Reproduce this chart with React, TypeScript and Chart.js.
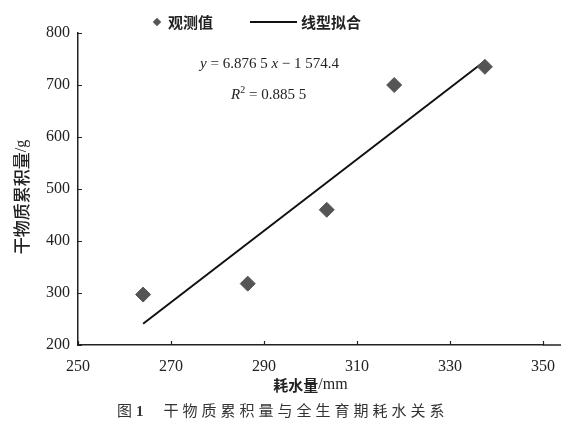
import React, { useEffect, useRef } from "react";
import { Chart, registerables } from "chart.js";

Chart.register(...registerables);

const waterUse = [264, 286.5, 303.5, 318, 337.5];
const dryMatter = [297, 318, 460, 700, 735];
const fitX = [264, 337.5];
const fitY = [241, 746];
const xTicks = [250, 270, 290, 310, 330, 350];
const yTicks = [200, 300, 400, 500, 600, 700, 800];
const xTitleParts = ["耗水量", "/mm"];
const yTitleParts = ["干物质累积量", "/g"];

const SERIF = '"Liberation Serif", "Noto Sans CJK SC", serif';
const CJK = '"Noto Sans CJK SC", "Liberation Serif", sans-serif';

const innerTicks = {
  id: "innerTicks",
  afterDraw(chart: any) {
    const { ctx, chartArea, scales } = chart;
    ctx.save();
    ctx.strokeStyle = "#222";
    ctx.lineWidth = 1.2;
    ctx.beginPath();
    for (const v of xTicks) {
      const px = Math.round(scales.x.getPixelForValue(v)) + 0.5;
      ctx.moveTo(px, chartArea.bottom);
      ctx.lineTo(px, chartArea.bottom - 4);
    }
    for (const v of yTicks) {
      const py = Math.round(scales.y.getPixelForValue(v)) + 0.5;
      ctx.moveTo(chartArea.left, py);
      ctx.lineTo(chartArea.left + 4, py);
    }
    ctx.stroke();
    // short extension of the x axis line past the last tick
    ctx.lineWidth = 1.5;
    ctx.beginPath();
    ctx.moveTo(chartArea.right, chartArea.bottom);
    ctx.lineTo(chartArea.right + 18, chartArea.bottom);
    ctx.stroke();

    // axis titles with mixed fonts
    const drawMixed = (parts: string[], fonts: string[], cx: number, cy: number, rot: number) => {
      ctx.save();
      ctx.translate(cx, cy);
      ctx.rotate(rot);
      ctx.fillStyle = "#222";
      ctx.textBaseline = "middle";
      ctx.textAlign = "left";
      const widths = parts.map((p, i) => {
        ctx.font = fonts[i];
        return ctx.measureText(p).width;
      });
      const total = widths.reduce((a, b) => a + b, 0);
      let x = -total / 2;
      parts.forEach((p, i) => {
        ctx.font = fonts[i];
        ctx.fillText(p, x, 0);
        x += widths[i];
      });
      ctx.restore();
    };
    const midX = (chartArea.left + chartArea.right) / 2;
    drawMixed(xTitleParts, [`bold 15px ${CJK}`, `16px ${SERIF}`], midX, chartArea.bottom + 40, 0);
    drawMixed(yTitleParts, [`500 17px ${CJK}`, `16px ${SERIF}`], 22, (chartArea.top + chartArea.bottom) / 2 + 8, -Math.PI / 2);
    ctx.restore();
  },
};

export default function App() {
  const ref = useRef<HTMLCanvasElement>(null);
  useEffect(() => {
    if (!ref.current) return;
    const chart = new Chart(ref.current, {
      type: "scatter",
      data: {
        datasets: [
          {
            label: "观测值",
            data: waterUse.map((x, i) => ({ x, y: dryMatter[i] })),
            pointStyle: "rectRot",
            pointRadius: 7.5,
            backgroundColor: "#555555",
            borderColor: "#555555",
            borderWidth: 1,
            showLine: false,
          },
          {
            label: "线型拟合",
            data: fitX.map((x, i) => ({ x, y: fitY[i] })),
            showLine: true,
            pointRadius: 0,
            borderColor: "#111111",
            borderWidth: 2,
            fill: false,
          },
        ],
      },
      options: {
        responsive: false,
        animation: false,
        layout: { padding: { left: 0, top: 33, right: 37, bottom: 43 } },
        plugins: { legend: { display: false }, tooltip: { enabled: false } },
        scales: {
          x: {
            type: "linear",
            min: 250,
            max: 350,
            afterFit: (s: any) => {
              s.height = 50;
            },
            afterBuildTicks: (s: any) => {
              s.ticks = xTicks.map((v) => ({ value: v }));
            },
            ticks: {
              font: { family: SERIF, size: 16 },
              color: "#222",
              padding: 12,
              maxRotation: 0,
            },
            grid: { display: true, drawOnChartArea: false, drawTicks: false },
            border: { display: true, color: "#222", width: 1.5 },
            title: { display: false },
          },
          y: {
            type: "linear",
            min: 200,
            max: 800,
            afterFit: (s: any) => {
              s.width = 78;
            },
            afterBuildTicks: (s: any) => {
              s.ticks = yTicks.map((v) => ({ value: v }));
            },
            ticks: {
              font: { family: SERIF, size: 16 },
              color: "#222",
              padding: 8,
            },
            grid: { display: true, drawOnChartArea: false, drawTicks: false },
            border: { display: true, color: "#222", width: 1.5 },
            title: { display: false },
          },
        },
      },
      plugins: [innerTicks],
    });
    return () => chart.destroy();
  }, []);

  return (
    <div
      style={{
        position: "fixed",
        left: 0,
        top: 0,
        width: 580,
        height: 438,
        background: "#fff",
        overflow: "hidden",
      }}
    >
      <canvas ref={ref} width={580} height={438} style={{ position: "absolute", left: 0, top: 0 }} />
      {/* legend */}
      <div style={{ position: "absolute", left: 154, top: 19, width: 6, height: 6, background: "#555", transform: "rotate(45deg)" }} />
      <div style={{ position: "absolute", left: 168, top: 11, font: `bold 15px ${CJK}`, color: "#222", lineHeight: "22px", whiteSpace: "nowrap" }}>观测值</div>
      <div style={{ position: "absolute", left: 250, top: 21, width: 47, height: 2, background: "#111" }} />
      <div style={{ position: "absolute", left: 301, top: 11, font: `bold 15px ${CJK}`, color: "#222", lineHeight: "22px", whiteSpace: "nowrap" }}>线型拟合</div>
      {/* equation */}
      <div style={{ position: "absolute", left: 200, top: 53, font: `15px ${SERIF}`, color: "#222", lineHeight: "20px", whiteSpace: "nowrap" }}>
        <i>y</i> = 6.876 5 <i>x</i> − 1 574.4
      </div>
      <div style={{ position: "absolute", left: 231, top: 80, font: `15px ${SERIF}`, color: "#222", lineHeight: "20px", whiteSpace: "nowrap" }}>
        <i>R</i>
        <sup style={{ fontSize: 10 }}>2</sup> = 0.885 5
      </div>
      {/* caption */}
      <div style={{ position: "absolute", left: 117, top: 399, font: `15px ${CJK}`, color: "#333", lineHeight: "22px", whiteSpace: "nowrap" }}>
        <span>图</span>
        <span style={{ fontFamily: SERIF, fontWeight: "bold", marginLeft: 4 }}>1</span>
        <span style={{ marginLeft: 20, letterSpacing: 4 }}>干物质累积量与全生育期耗水关系</span>
      </div>
    </div>
  );
}
